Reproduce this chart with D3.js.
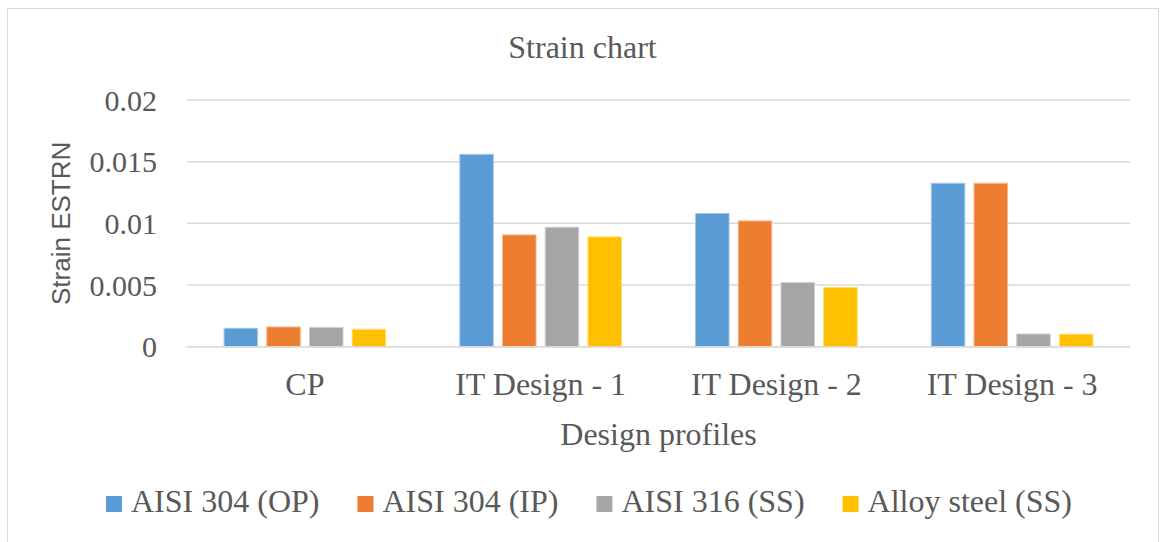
<!DOCTYPE html>
<html>
<head>
<meta charset="utf-8">
<script src="https://cdn.jsdelivr.net/npm/d3@7"></script>
<style>
  html, body { margin: 0; padding: 0; background: #ffffff; }
  svg { display: block; }
  text { fill: #595959; }
</style>
</head>
<body>
<svg id="chart" width="1160" height="542"></svg>
<script>
// Design profiles on the x axis
const categories = ["CP", "IT Design - 1", "IT Design - 2", "IT Design - 3"];

// Material series
const seriesNames = ["AISI 304 (OP)", "AISI 304 (IP)", "AISI 316 (SS)", "Alloy steel (SS)"];
const seriesColors = ["#5B9BD5", "#ED7D31", "#A5A5A5", "#FFC000"];

// Strain values per series, one per design profile
const aisi304OP = [0.00149, 0.0156, 0.0108, 0.01325];
const aisi304IP = [0.00160, 0.00906, 0.0102, 0.01325];
const aisi316SS = [0.00155, 0.00968, 0.0052, 0.00103];
const alloySteelSS = [0.00141, 0.0089, 0.0048, 0.00101];

// Y axis ticks and their labels
const yTicks = [0, 0.005, 0.01, 0.015, 0.02];
const yTickLabels = ["0", "0.005", "0.01", "0.015", "0.02"];

const seriesValues = [aisi304OP, aisi304IP, aisi316SS, alloySteelSS];

const svg = d3.select("#chart");
const serif = "'Liberation Serif', 'Times New Roman', serif";
const sans = "'Liberation Sans', Arial, sans-serif";

// Chart area frame
svg.append("rect")
  .attr("x", 7.5).attr("y", 8.5)
  .attr("width", 1151).attr("height", 560)
  .attr("fill", "#ffffff")
  .attr("stroke", "#d9d9d9").attr("stroke-width", 1);

const plot = { left: 187, right: 1130, top: 100, bottom: 346.7 };

const x0 = d3.scaleBand()
  .domain(categories)
  .range([plot.left, plot.right])
  .paddingInner(0).paddingOuter(0);

const x1 = d3.scaleBand()
  .domain(seriesNames)
  .range([0, x0.bandwidth()])
  .paddingInner(0.215)
  .paddingOuter(0.868);

const y = d3.scaleLinear()
  .domain([0, 0.02])
  .range([plot.bottom, plot.top]);

// Horizontal gridlines
svg.append("g")
  .selectAll("line")
  .data(yTicks)
  .join("line")
  .attr("x1", plot.left).attr("x2", plot.right)
  .attr("y1", d => y(d)).attr("y2", d => y(d))
  .attr("stroke", "#d9d9d9")
  .attr("stroke-width", 1.5);

// Y tick labels
svg.append("g")
  .selectAll("text")
  .data(yTicks)
  .join("text")
  .attr("x", 157)
  .attr("y", d => y(d))
  .attr("dy", "0.35em")
  .attr("text-anchor", "end")
  .style("font-family", serif)
  .style("font-size", "30px")
  .text((d, i) => yTickLabels[i]);

// Bars
const rows = [];
categories.forEach((c, ci) => {
  seriesNames.forEach((s, si) => {
    rows.push({ category: c, series: s, value: seriesValues[si][ci], color: seriesColors[si] });
  });
});

svg.append("g")
  .selectAll("rect")
  .data(rows)
  .join("rect")
  .attr("x", d => x0(d.category) + x1(d.series))
  .attr("y", d => y(d.value))
  .attr("width", x1.bandwidth())
  .attr("height", d => y(0) - y(d.value))
  .attr("fill", d => d.color)
  .attr("stroke", d => d3.interpolateRgb(d.color, "#ffffff")(0.45))
  .attr("stroke-width", 1);

// Baseline
svg.append("line")
  .attr("x1", plot.left).attr("x2", plot.right)
  .attr("y1", y(0)).attr("y2", y(0))
  .attr("stroke", "#d9d9d9")
  .attr("stroke-width", 1.5);

// Category labels
svg.append("g")
  .selectAll("text")
  .data(categories)
  .join("text")
  .attr("x", d => x0(d) + x0.bandwidth() / 2)
  .attr("y", 395)
  .attr("text-anchor", "middle")
  .style("font-family", serif)
  .style("font-size", "32px")
  .text(d => d);

// Title
svg.append("text")
  .attr("x", 582.5).attr("y", 57.5)
  .attr("text-anchor", "middle")
  .style("font-family", serif)
  .style("font-size", "32px")
  .text("Strain chart");

// X axis title
svg.append("text")
  .attr("x", (plot.left + plot.right) / 2).attr("y", 445)
  .attr("text-anchor", "middle")
  .style("font-family", serif)
  .style("font-size", "32px")
  .text("Design profiles");

// Y axis title
svg.append("text")
  .attr("transform", `translate(70, ${(plot.top + plot.bottom) / 2}) rotate(-90)`)
  .attr("text-anchor", "middle")
  .style("font-family", sans)
  .style("font-size", "26px")
  .text("Strain ESTRN");

// Legend
const legend = svg.append("g");
const items = legend.selectAll("g")
  .data(seriesNames)
  .join("g");
items.append("rect")
  .attr("width", 16).attr("height", 16)
  .attr("y", 496)
  .attr("fill", (d, i) => seriesColors[i]);
items.append("text")
  .attr("x", 25)
  .attr("y", 512)
  .style("font-family", serif)
  .style("font-size", "32px")
  .text(d => d);

const gap = 38;
let widths = [];
items.each(function () {
  widths.push(this.getBBox().width);
});
const total = d3.sum(widths) + gap * (widths.length - 1);
let cursor = 589 - total / 2;
items.attr("transform", (d, i) => {
  const tx = cursor;
  cursor += widths[i] + gap;
  return `translate(${tx}, 0)`;
});
</script>
</body>
</html>
